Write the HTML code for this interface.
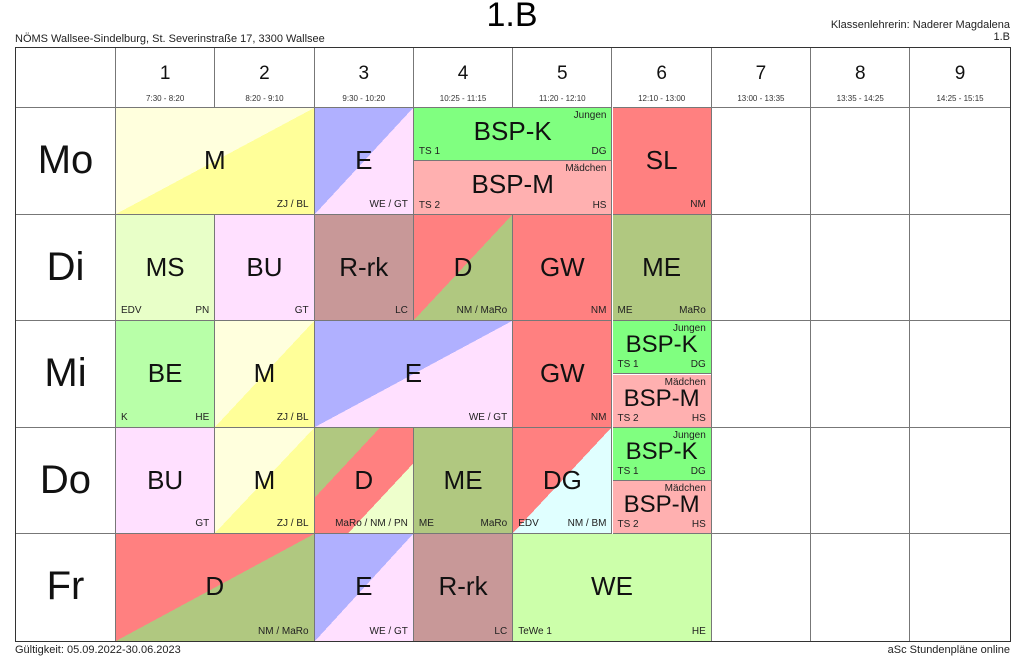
<!DOCTYPE html>
<html><head><meta charset="utf-8"><style>
body{margin:0;width:1024px;height:659px;background:#fff;font-family:"Liberation Sans",Arial,sans-serif;position:relative;overflow:hidden;color:#000}
.a{position:absolute}
.cell{position:absolute;box-sizing:border-box;border-right:1px solid #777;border-bottom:1px solid #777;overflow:hidden}
.subj{position:absolute;left:0;right:0;text-align:center;color:#111}
.sm{position:absolute;font-size:10px;color:#222}
</style></head><body>
<div class="a" style="left:0;width:1024px;top:-4px;text-align:center;font-size:34px">1.B</div>
<div class="a" style="left:15px;top:33px;font-size:11px;color:#222">NÖMS Wallsee-Sindelburg, St. Severinstraße 17, 3300 Wallsee</div>
<div class="a" style="right:14px;top:19px;font-size:11px;color:#222;text-align:right">Klassenlehrerin: Naderer Magdalena<br>1.B</div>
<div class="a" style="left:15px;top:644px;font-size:11px;color:#222">Gültigkeit: 05.09.2022-30.06.2023</div>
<div class="a" style="right:14px;top:644px;font-size:11px;color:#222">aSc Stundenpläne online</div>
<div id="grid" class="a" style="left:15px;top:47px;width:996px;height:595px;box-sizing:border-box;border:1px solid #333;overflow:hidden"></div>
<script>
const periods=["1","2","3","4","5","6","7","8","9"];
const times=["7:30 - 8:20","8:20 - 9:10","9:30 - 10:20","10:25 - 11:15","11:20 - 12:10","12:10 - 13:00","13:00 - 13:35","13:35 - 14:25","14:25 - 15:15"];
const days=["Mo","Di","Mi","Do","Fr"];
const Y1="#ffffdd",Y2="#ffff99",B1="#b0b0ff",P1="#ffe0ff",R="#ff8080",O="#b0c880",G="#80ff80",PM="#ffb0b0";
// [day,startPeriod,span,subject,bg,bottomLeft,bottomRight] ; bg array = diagonal split
const lessons=[
[0,1,2,"M",[Y1,Y2],"","ZJ / BL"],[0,3,1,"E",[B1,P1],"","WE / GT"],[0,4,2,"BSP",null],[0,6,1,"SL",R,"","NM"],
[1,1,1,"MS","#e8ffc8","EDV","PN"],[1,2,1,"BU",P1,"","GT"],[1,3,1,"R-rk","#c89898","","LC"],[1,4,1,"D",[R,O],"","NM / MaRo"],[1,5,1,"GW",R,"","NM"],[1,6,1,"ME",O,"ME","MaRo"],
[2,1,1,"BE","#b8ffa8","K","HE"],[2,2,1,"M",[Y1,Y2],"","ZJ / BL"],[2,3,2,"E",[B1,P1],"","WE / GT"],[2,5,1,"GW",R,"","NM"],[2,6,1,"BSP",null],
[3,1,1,"BU",P1,"","GT"],[3,2,1,"M",[Y1,Y2],"","ZJ / BL"],[3,3,1,"D",[O,R,"#eeffcc"],"","MaRo / NM / PN"],[3,4,1,"ME",O,"ME","MaRo"],[3,5,1,"DG",[R,"#e0ffff"],"EDV","NM / BM"],[3,6,1,"BSP",null],
[4,1,2,"D",[R,O],"","NM / MaRo"],[4,3,1,"E",[B1,P1],"","WE / GT"],[4,4,1,"R-rk","#c89898","","LC"],[4,5,2,"WE","#ccffaa","TeWe 1","HE"]];
const grid=document.getElementById('grid');
const X0=100,CW=99.3,H0=60,RH=106.6;
function px(p){return X0+(p-1)*CW;}
function mk(l,t,w,h,bg){const d=document.createElement('div');d.className='cell';d.style.cssText+=`left:${l}px;top:${t}px;width:${w}px;height:${h}px;background:${bg||'transparent'}`;grid.appendChild(d);return d;}
function sm(par,txt,css){const s=document.createElement('div');s.className='sm';s.textContent=txt;s.style.cssText+=css;par.appendChild(s);return s;}
const hc=mk(0,0,X0,H0,'#fff');


periods.forEach((p,i)=>{const c=mk(px(i+1),0,CW,H0,'#fff');


c.innerHTML=`<div class="subj" style="top:15px;font-size:19px">${p}</div><div class="subj" style="top:46px;font-size:8px;color:#333">${times[i]}</div>`;
if(i==8)c.style.borderRight='none';});
days.forEach((d,i)=>{const c=mk(0,H0+i*RH,X0,RH,'#fff');


c.innerHTML=`<div class="subj" style="top:30px;font-size:40px">${d}</div>`;
if(i==4)c.style.borderBottom='none';
for(let p=1;p<=9;p++){const e=mk(px(p),H0+i*RH,CW,RH,'#fff');if(p==9)e.style.borderRight='none';if(i==4)e.style.borderBottom='none';

}});
lessons.forEach(L=>{const [d,p,s,sub,bg,bl,br]=L;const l=px(p),t=H0+d*RH,w=CW*s,h=RH;
if(sub==="BSP"){const fs=s>1?26:24;
[[G,"BSP-K","Jungen","TS 1","DG"],[PM,"BSP-M","Mädchen","TS 2","HS"]].forEach((g,k)=>{
const c=mk(l,t+k*h/2,w,h/2,g[0]);


c.innerHTML=`<div class="subj" style="top:${s>1?8:10}px;font-size:${fs}px">${g[1]}</div>`;
sm(c,g[2],'right:5px;top:2px');sm(c,g[3],'left:5px;bottom:3px');sm(c,g[4],'right:5px;bottom:3px');});return;}
let b=bg;if(Array.isArray(bg)){b=bg.length==2?`linear-gradient(to bottom right,${bg[0]} 50%,${bg[1]} 50%)`:`linear-gradient(to bottom right,${bg[0]} 33%,${bg[1]} 33%,${bg[1]} 67%,${bg[2]} 67%)`;}
const c=mk(l,t,w,h,b);
if(d==4)c.style.borderBottom='none';


c.innerHTML=`<div class="subj" style="top:37px;font-size:26px">${sub}</div>`;
if(bl)sm(c,bl,'left:5px;bottom:4px');if(br)sm(c,br,'right:5px;bottom:4px');});
</script>
</body></html>
